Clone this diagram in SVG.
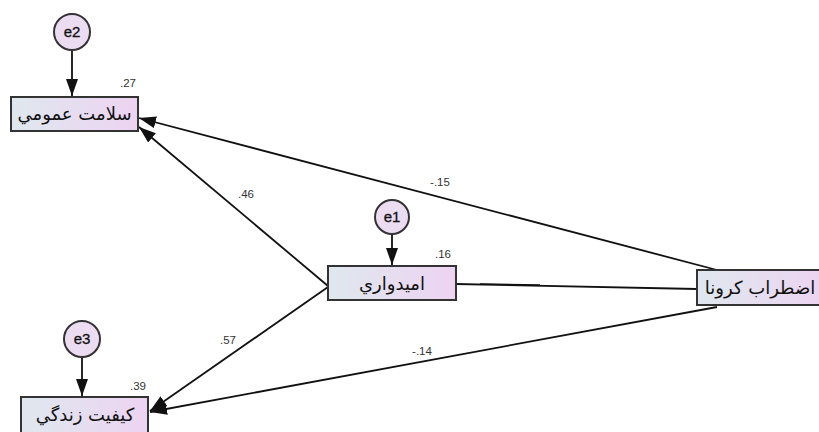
<svg xmlns="http://www.w3.org/2000/svg" width="819" height="432" viewBox="0 0 819 432">
<style>
.box{stroke:#333;stroke-width:2;fill:url(#bg)}
.circ{stroke:#333;stroke-width:2;fill:#ecdcf2}
.lbl{font-family:"DejaVu Sans",sans-serif;font-size:18px;fill:#111;text-anchor:middle}
.el{font-family:"Liberation Sans",Arial,sans-serif;font-size:15px;fill:#111;text-anchor:middle;stroke:#111;stroke-width:0.3}
.num{font-family:"Liberation Sans",Arial,sans-serif;font-size:11.5px;fill:#333;text-anchor:middle}
.ln{stroke:#111;stroke-width:1.8;fill:none}
.arr{marker-end:url(#ah)}
</style>
<defs>
<linearGradient id="bg" x1="0" y1="0" x2="1" y2="0">
<stop offset="0" stop-color="#dfe8ee"/>
<stop offset="1" stop-color="#edd3f2"/>
</linearGradient>
<marker id="ah" markerUnits="userSpaceOnUse" markerWidth="18" markerHeight="12" refX="17" refY="6" orient="auto">
<path d="M0,0 L17,6 L0,12 z" fill="#111"/>
</marker>
</defs>
<g id="connectors">
<line class="ln arr" x1="72" y1="50" x2="72" y2="96"/>
<line class="ln arr" x1="392" y1="234" x2="392" y2="265"/>
<line class="ln arr" x1="82" y1="357" x2="82" y2="396"/>
<line class="ln arr" x1="328" y1="286" x2="139" y2="127"/>
<line class="ln arr" x1="717" y1="270" x2="139" y2="118"/>
<line class="ln arr" x1="328" y1="287" x2="150" y2="411"/>
<line class="ln arr" x1="717" y1="307" x2="150" y2="412"/>
<line class="ln" x1="456" y1="284" x2="697" y2="289"/>
<polygon points="480,283.2 540,284.3 540,285.8 480,284.8" fill="#111"/>
</g>
<g id="labels">
<text class="num" x="246" y="198">.46</text>
<text class="num" x="440" y="186">-.15</text>
<text class="num" x="228" y="344">.57</text>
<text class="num" x="422" y="355">-.14</text>
<text class="num" x="128" y="87">.27</text>
<text class="num" x="443" y="258">.16</text>
<text class="num" x="138" y="390">.39</text>
</g>
<g id="e2"><circle class="circ" cx="72" cy="32" r="18"/><text class="el" x="72" y="37">e2</text></g>
<g id="e1"><circle class="circ" cx="392" cy="217" r="17"/><text class="el" x="392" y="222">e1</text></g>
<g id="e3"><circle class="circ" cx="82" cy="339" r="18"/><text class="el" x="82" y="344">e3</text></g>
<g id="salamat"><rect class="box" x="11" y="97" width="127" height="34"/><text class="lbl" x="74.5" y="120">سلامت عمومي</text></g>
<g id="omidvari"><rect class="box" x="328" y="266" width="128" height="34"/><text class="lbl" x="392" y="290">اميدواري</text></g>
<g id="ezterab"><rect class="box" x="697" y="270" width="133" height="35"/><text class="lbl" x="760" y="294">اضطراب کرونا</text></g>
<g id="keyfiyat"><rect class="box" x="21" y="397" width="127" height="38"/><text class="lbl" x="85" y="421">کيفيت زندگي</text></g>
</svg>
